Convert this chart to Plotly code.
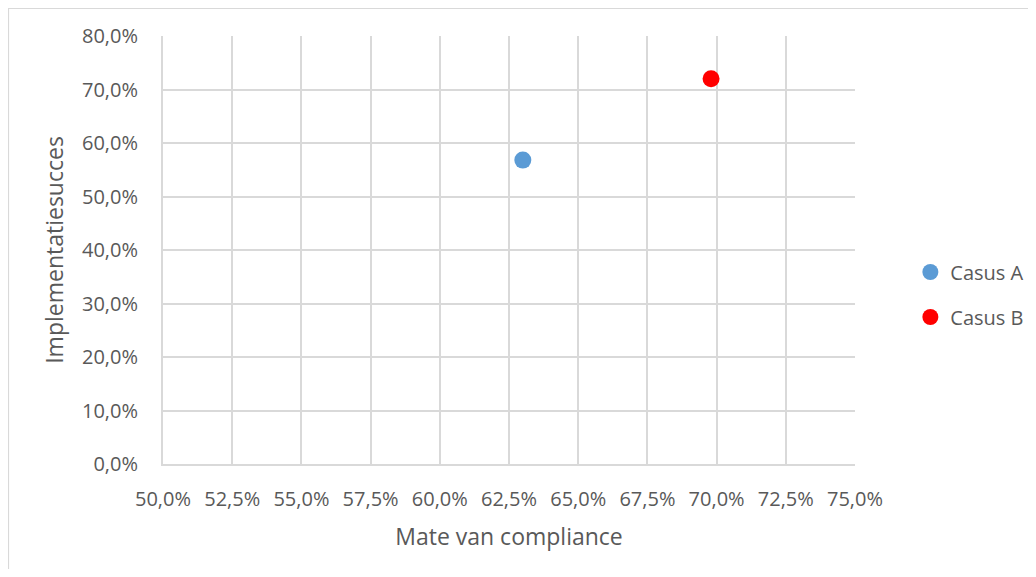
import plotly.graph_objects as go

# data (fractions, shown as percent)
series_names = ["Casus A", "Casus B"]
compliance = [0.630, 0.698]
succes = [0.568, 0.720]
colors = ["#5B9BD5", "#FF0000"]

font_family = "Open Sans, Lato, sans-serif"
grey_text = "#595959"
grid_col = "#D9D9D9"

fig = go.Figure()
for name, x, y, c in zip(series_names, compliance, succes, colors):
    fig.add_trace(go.Scatter(x=[x], y=[y], mode="markers", name=name,
                             legendgroup=name,
                             marker=dict(color=c, size=17, line=dict(width=0))))

# page body adds 8px, so the figure is a bit smaller than the window
fig.update_layout(
    width=1020, height=561,
    margin=dict(l=155, r=173, t=28, b=105, autoexpand=False),
    paper_bgcolor="white", plot_bgcolor="white",
    separators=",.",
    font=dict(family=font_family, color=grey_text, size=20),
    showlegend=True,
    legend=dict(x=1.080, y=0.396, xanchor="left", yanchor="middle",
                font=dict(size=20, color=grey_text), tracegroupgap=16,
                itemwidth=30),
    # outer chart border (only top/left visible in the crop)
    shapes=[dict(type="rect", xref="paper", yref="paper",
                 x0=-0.2233, y0=-1.0, x1=2.0, y1=1.0643,
                 line=dict(color="#D9D9D9", width=1.2), layer="below")],
)

fig.update_xaxes(
    range=[0.5, 0.75], dtick=0.025, tickformat=".1%",
    showgrid=True, gridcolor=grid_col, gridwidth=2,
    showline=True, linecolor=grid_col, linewidth=2,
    zeroline=False, ticks="", ticklabelstandoff=16,
    tickfont=dict(size=20, color=grey_text),
    title=dict(text="Mate van compliance", font=dict(size=23, color=grey_text), standoff=18),
)
fig.update_yaxes(
    range=[0, 0.8], dtick=0.1, tickformat=".1%",
    showgrid=True, gridcolor=grid_col, gridwidth=2,
    showline=True, linecolor=grid_col, linewidth=2,
    zeroline=False, ticks="", ticklabelstandoff=19,
    tickfont=dict(size=20, color=grey_text),
    title=dict(text="Implementatiesucces", font=dict(size=23, color=grey_text), standoff=12),
)

fig.write_html("out.html")
